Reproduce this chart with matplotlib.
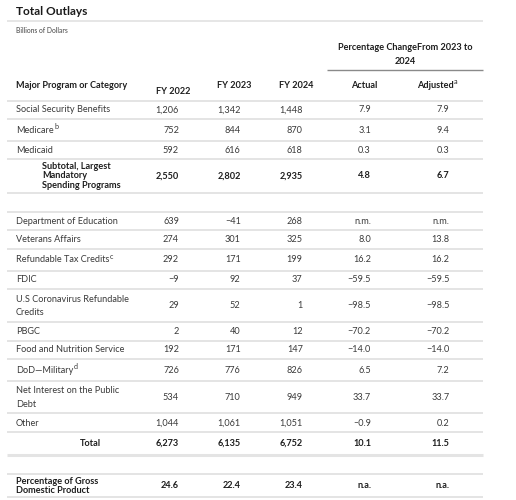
import matplotlib
matplotlib.use("Agg")
import matplotlib.pyplot as plt

FONT = ["Lato", "DejaVu Sans"]
plt.rcParams['font.family'] = FONT

title = "Total Outlays"
subtitle = "Billions of Dollars"
group_header = ["Percentage ChangeFrom 2023 to", "2024"]
col_headers = ["Major Program or Category", "FY 2022", "FY 2023", "FY 2024", "Actual", "Adjusted"]

# rows: label lines, superscript, values per column, style
categories = [
    ["Social Security Benefits"], ["Medicare"], ["Medicaid"],
    ["Subtotal, Largest", "Mandatory", "Spending Programs"],
    ["Department of Education"], ["Veterans Affairs"], ["Refundable Tax Credits"],
    ["FDIC"], ["U.S Coronavirus Refundable", "Credits"], ["PBGC"],
    ["Food and Nutrition Service"], ["DoD\u2014Military"],
    ["Net Interest on the Public", "Debt"], ["Other"], ["Total"],
    ["Percentage of Gross", "Domestic Product"],
]
superscripts = ["", "b", "", "", "", "", "c", "", "", "", "", "d", "", "", "", ""]
fy2022 = ["1,206", "752", "592", "2,550", "639", "274", "292", "\u22129", "29", "2",
          "192", "726", "534", "1,044", "6,273", "24.6"]
fy2023 = ["1,342", "844", "616", "2,802", "\u221241", "301", "171", "92", "52", "40",
          "171", "776", "710", "1,061", "6,135", "22.4"]
fy2024 = ["1,448", "870", "618", "2,935", "268", "325", "199", "37", "1", "12",
          "147", "826", "949", "1,051", "6,752", "23.4"]
actual = ["7.9", "3.1", "0.3", "4.8", "n.m.", "8.0", "16.2", "\u221259.5", "\u221298.5",
          "\u221270.2", "\u221214.0", "6.5", "33.7", "\u22120.9", "10.1", "n.a."]
adjusted = ["7.9", "9.4", "0.3", "6.7", "n.m.", "13.8", "16.2", "\u221259.5", "\u221298.5",
            "\u221270.2", "\u221214.0", "7.2", "33.7", "0.2", "11.5", "n.a."]
kinds = ["n", "n", "n", "sub", "n", "n", "n", "n", "n", "n", "n", "n", "n", "n", "total", "pct"]

# layout (pixels)
row_centers = [110, 130.5, 150.5, 176, 221, 240, 260, 280, 306, 331.5, 350,
               370.7, 397.7, 423.3, 443.3, 486]
row_bottoms = [119.3, 141, 159.3, 192.5, 230.3, 248.7, 270.7, 289.3, 322.3, 341,
               359.3, 381, 413.3, 432.3, 455, 497.3]
col_right = [179, 240.7, 302.7, 371, 449.3]
line_gap = 13.8

W, H = 516, 500
fig = plt.figure(figsize=(W / 100, H / 100), dpi=100)
ax = fig.add_axes([0, 0, 1, 1])
ax.set_xlim(0, W)
ax.set_ylim(H, 0)
ax.axis("off")

TXT = "#3a3a3a"
BOLD = "#1e1e1e"
SEP = "#e4e4e4"
FS = 6.6

renderer = fig.canvas.get_renderer()


def sup_after(t, s, color, size=5.2, bold=False):
    bb = t.get_window_extent(renderer=renderer)
    inv = ax.transData.inverted()
    (x1, y1) = inv.transform((bb.x1, bb.y1))
    ax.text(x1 + 0.4, y1 + 0.6, s, fontsize=size, color=color, ha="left", va="center",
            fontweight="bold" if bold else "normal")


# title
ax.text(16, 11.5, title, fontsize=8.6, fontweight="bold", color="#1a1a1a", ha="left", va="center")
ax.plot([7, 483], [21.3, 21.3], color="#e2e2e2", lw=1.2, solid_capstyle="butt")
ax.text(16, 30.5, subtitle, fontsize=4.9, color="#444444", ha="left", va="center")

# group header
ax.text(405, 47.3, group_header[0], fontsize=FS, fontweight="bold", color=BOLD, ha="center", va="center")
ax.text(405, 61.3, group_header[1], fontsize=FS, fontweight="bold", color=BOLD, ha="center", va="center")
ax.plot([327, 483], [70.3, 70.3], color="#8a8a8a", lw=1.0, solid_capstyle="butt")

# column headers
ax.text(16, 85, col_headers[0], fontsize=FS, fontweight="bold", color=BOLD, ha="left", va="center")
ax.text(173.5, 91, col_headers[1], fontsize=FS, fontweight="bold", color=BOLD, ha="center", va="center")
ax.text(234.5, 85, col_headers[2], fontsize=FS, fontweight="bold", color=BOLD, ha="center", va="center")
ax.text(296.5, 85, col_headers[3], fontsize=FS, fontweight="bold", color=BOLD, ha="center", va="center")
ax.text(364, 85, col_headers[4], fontsize=FS, fontweight="bold", color=BOLD, ha="center", va="center")
th = ax.text(435, 85, col_headers[5], fontsize=FS, fontweight="bold", color=BOLD, ha="center", va="center")
fig.canvas.draw()
sup_after(th, "a", BOLD, bold=False)

ax.plot([7, 483], [101, 101], color=SEP, lw=1.4, solid_capstyle="butt")
# spacer line after subtotal block
ax.plot([7, 483], [211.7, 211.7], color=SEP, lw=1.4, solid_capstyle="butt")
# spacer line before GDP row
ax.plot([7, 483], [474.3, 474.3], color=SEP, lw=1.4, solid_capstyle="butt")

for i, lab in enumerate(categories):
    yc = row_centers[i]
    kind = kinds[i]
    bold = kind in ("sub", "total", "pct")
    color = BOLD if bold else TXT
    weight = "bold" if bold else "normal"
    n = len(lab)
    if kind == "sub":
        gap, x0 = 9.3, 42
    elif kind == "pct":
        gap, x0 = 9.3, 16
    else:
        gap, x0 = line_gap, 16
    for j, line in enumerate(lab):
        y = yc + (j - (n - 1) / 2) * gap
        if kind == "total":
            t = ax.text(90, y, line, fontsize=FS, fontweight=weight, color=color, ha="center", va="center")
        else:
            t = ax.text(x0, y, line, fontsize=FS, fontweight=weight, color=color, ha="left", va="center")
        if j == n - 1 and superscripts[i]:
            fig.canvas.draw()
            sup_after(t, superscripts[i], color)
    for xr, vals in zip(col_right, [fy2022, fy2023, fy2024, actual, adjusted]):
        ax.text(xr, yc, vals[i], fontsize=FS, fontweight=weight, color=color, ha="right", va="center")
    lw = 2.2 if kind == "total" else 1.4
    ax.plot([7, 483], [row_bottoms[i], row_bottoms[i]], color=SEP, lw=lw, solid_capstyle="butt")

fig.savefig("out.png", dpi=100)
